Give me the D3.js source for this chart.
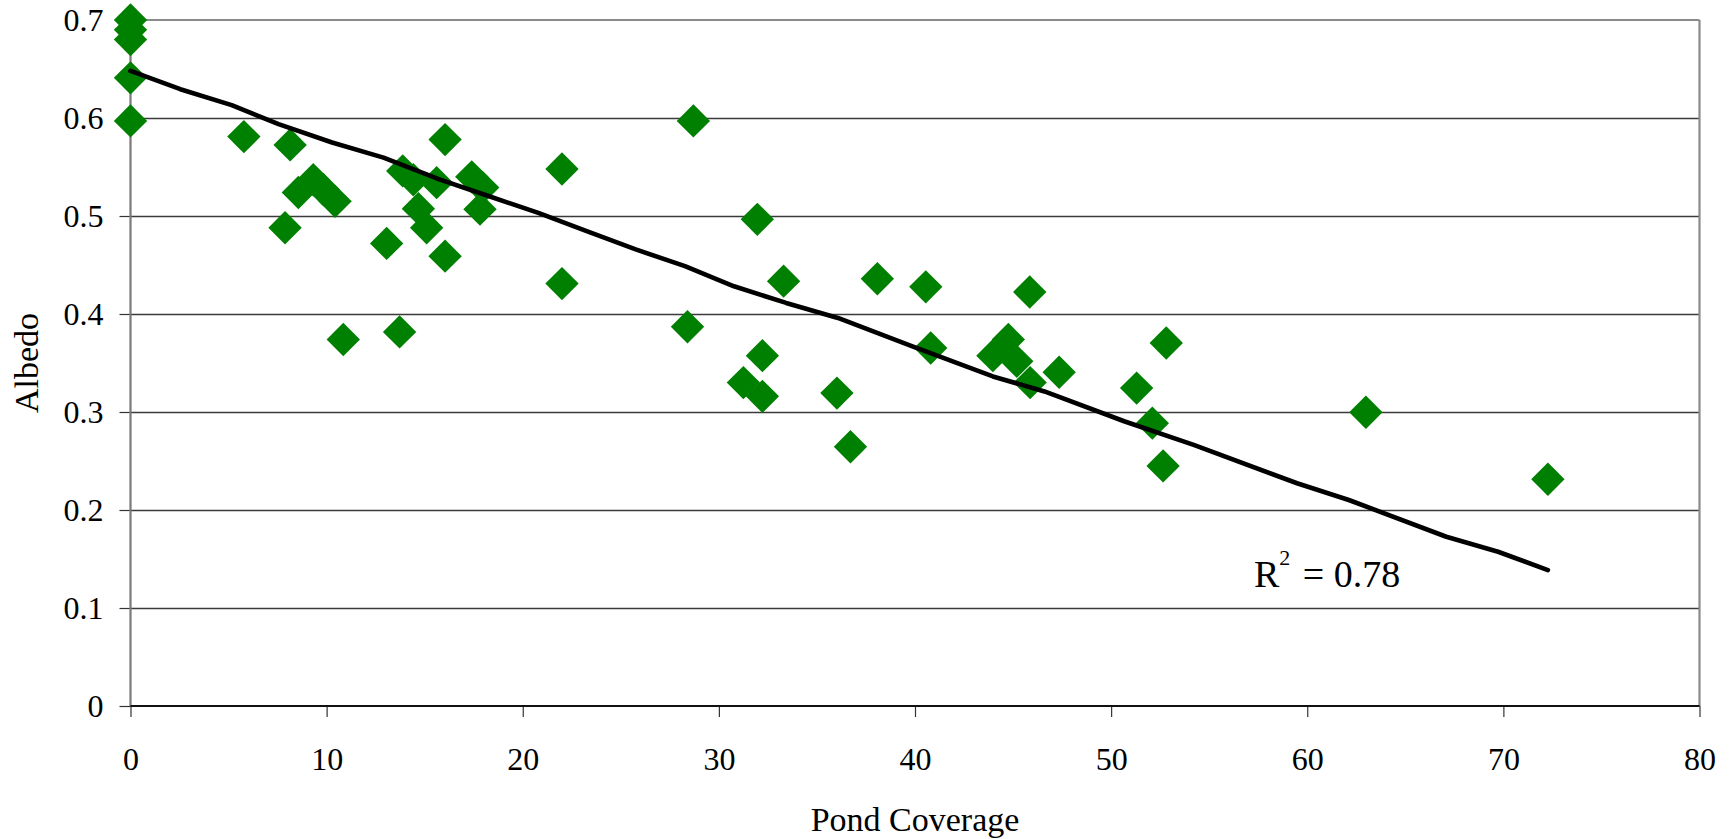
<!DOCTYPE html>
<html>
<head>
<meta charset="utf-8">
<script src="https://cdn.jsdelivr.net/npm/d3@7"></script>
<style>
  body { margin: 0; background: #fff; }
  svg { display: block; }
</style>
</head>
<body>
<svg id="chart" width="1734" height="839"></svg>
<script>
// Melt pond coverage (%) against surface albedo
const pondCoverage = [
  0, 0, 0, 0, 0,
  5.78, 8.14, 7.88, 8.56, 9.32, 9.83, 10.43, 10.85,
  13.06, 13.72, 13.88, 14.42, 15.61, 14.68, 15.10, 16.04, 16.04,
  17.40, 17.96, 17.82, 22.0, 22.0,
  28.40, 28.70, 31.96, 31.25, 32.22, 32.22, 33.30, 36.02, 36.71,
  38.08, 40.55, 40.80, 43.97, 44.76, 45.19, 45.87, 45.85, 47.35,
  51.30, 52.10, 52.65, 52.81, 62.99, 72.27
];
const albedo = [
  0.700, 0.690, 0.680, 0.641, 0.597,
  0.581, 0.5725, 0.488, 0.524, 0.537, 0.527, 0.515, 0.374,
  0.472, 0.3817, 0.546, 0.537, 0.534, 0.5075, 0.488, 0.578, 0.459,
  0.540, 0.529, 0.507, 0.548, 0.431,
  0.387, 0.597, 0.4966, 0.330, 0.3575, 0.316, 0.4335, 0.3193, 0.2645,
  0.436, 0.4277, 0.3653, 0.3575, 0.374, 0.3517, 0.330, 0.4224, 0.3406,
  0.3244, 0.2886, 0.245, 0.3704, 0.2997, 0.2314
];

// Trend line vertices
const trendX = [0, 2.54, 5.16, 7.55, 10.28, 12.90, 15.75, 18.25, 20.76, 23.26, 25.76, 28.27,
  30.77, 33.43, 36.07, 39.87, 43.97, 46.6, 50.7, 54.21, 59.48, 62.12, 67.09, 69.73, 72.27];
const trendY = [0.648, 0.6294, 0.6131, 0.5937, 0.575, 0.5596, 0.5374, 0.5204, 0.5034, 0.4846,
  0.4659, 0.4488, 0.4283, 0.4113, 0.396, 0.367, 0.3363, 0.321, 0.2903, 0.2665, 0.2273,
  0.2102, 0.1727, 0.1574, 0.1387];
const rSquared = "0.78";

const xTicks = [0, 10, 20, 30, 40, 50, 60, 70, 80];
const xTickLabels = ["0", "10", "20", "30", "40", "50", "60", "70", "80"];
const yTicks = [0, 0.1, 0.2, 0.3, 0.4, 0.5, 0.6, 0.7];
const yTickLabels = ["0", "0.1", "0.2", "0.3", "0.4", "0.5", "0.6", "0.7"];

const SERIF = "'Liberation Serif', 'Times New Roman', Times, serif";

const svg = d3.select("#chart");
const plotLeft = 130.5, plotRight = 1699.5, plotTop = 20, plotBottom = 706;

const x = d3.scaleLinear().domain([0, 80]).range([plotLeft, plotRight]);
const y = d3.scaleLinear().domain([0, 0.7]).range([plotBottom, plotTop]);

svg.append("rect").attr("width", 1734).attr("height", 839).attr("fill", "#fff");

// horizontal gridlines
svg.append("g")
  .selectAll("line")
  .data(yTicks.filter(v => v > 0 && v < 0.7))
  .join("line")
  .attr("x1", plotLeft).attr("x2", plotRight)
  .attr("y1", d => Math.round(y(d)) + 0.5).attr("y2", d => Math.round(y(d)) + 0.5)
  .attr("stroke", "#3a3a3a").attr("stroke-width", 1.3);

// plot frame: top and right edges
svg.append("line").attr("x1", plotLeft).attr("x2", plotRight).attr("y1", y(0.7)).attr("y2", y(0.7))
  .attr("stroke", "#8a8a8a").attr("stroke-width", 2.2);
svg.append("line").attr("x1", plotRight).attr("x2", plotRight).attr("y1", plotTop).attr("y2", plotBottom)
  .attr("stroke", "#8a8a8a").attr("stroke-width", 2.2);

// y axis
const yAxis = svg.append("g")
  .attr("transform", `translate(${plotLeft},0)`)
  .call(d3.axisLeft(y).tickValues(yTicks).tickSize(11).tickPadding(16)
    .tickFormat((d, i) => yTickLabels[i]))
  .attr("font-family", SERIF).attr("font-size", 32);
yAxis.select(".domain").remove();
yAxis.selectAll(".tick line").attr("stroke", "#333").attr("stroke-width", 1.2);
yAxis.selectAll(".tick text").style("font-family", SERIF).attr("font-size", 32).attr("fill", "#000");
svg.append("line").attr("x1", plotLeft).attr("x2", plotLeft).attr("y1", plotTop).attr("y2", plotBottom)
  .attr("stroke", "#7a7a7a").attr("stroke-width", 2.2);

// x axis
const xAxis = svg.append("g")
  .attr("transform", `translate(0,${plotBottom})`)
  .call(d3.axisBottom(x).tickValues(xTicks).tickSize(11).tickPadding(30)
    .tickFormat((d, i) => xTickLabels[i]))
  .attr("font-family", SERIF).attr("font-size", 32);
xAxis.select(".domain").remove();
xAxis.selectAll(".tick line").attr("stroke", "#333").attr("stroke-width", 1.2);
xAxis.selectAll(".tick text").style("font-family", SERIF).attr("font-size", 32).attr("fill", "#000");
svg.append("line").attr("x1", plotLeft).attr("x2", plotRight).attr("y1", plotBottom).attr("y2", plotBottom)
  .attr("stroke", "#111").attr("stroke-width", 1.8);

// axis titles
svg.append("text")
  .attr("x", (plotLeft + plotRight) / 2).attr("y", 831)
  .attr("text-anchor", "middle").attr("font-size", 34)
  .style("font-family", SERIF).attr("fill", "#000")
  .text("Pond Coverage");
svg.append("text")
  .attr("transform", `translate(38,${(plotTop + plotBottom) / 2}) rotate(-90)`)
  .attr("text-anchor", "middle").attr("font-size", 34)
  .style("font-family", SERIF).attr("fill", "#000")
  .text("Albedo");

// diamond markers
const diamond = d3.symbol().type(d3.symbolSquare).size(556);
svg.append("g")
  .selectAll("path")
  .data(pondCoverage.map((p, i) => [p, albedo[i]]))
  .join("path")
  .attr("d", diamond)
  .attr("transform", d => `translate(${x(d[0])},${y(d[1])}) rotate(45)`)
  .attr("fill", "#008000");

// trend line
const line = d3.line().x(d => x(d[0])).y(d => y(d[1]));
svg.append("path")
  .datum(trendX.map((t, i) => [t, trendY[i]]))
  .attr("d", line)
  .attr("fill", "none")
  .attr("stroke", "#000")
  .attr("stroke-width", 4.6)
  .attr("stroke-linecap", "round")
  .attr("stroke-linejoin", "round");

// coefficient of determination label
const r2 = svg.append("text").attr("x", 1254).attr("y", 587).attr("font-size", 38)
  .style("font-family", SERIF).attr("fill", "#000");
r2.append("tspan").text("R");
r2.append("tspan").attr("font-size", 22).attr("dy", -22).text("2");
r2.append("tspan").attr("dy", 22).attr("dx", 3).text(" = " + rSquared);
</script>
</body>
</html>
